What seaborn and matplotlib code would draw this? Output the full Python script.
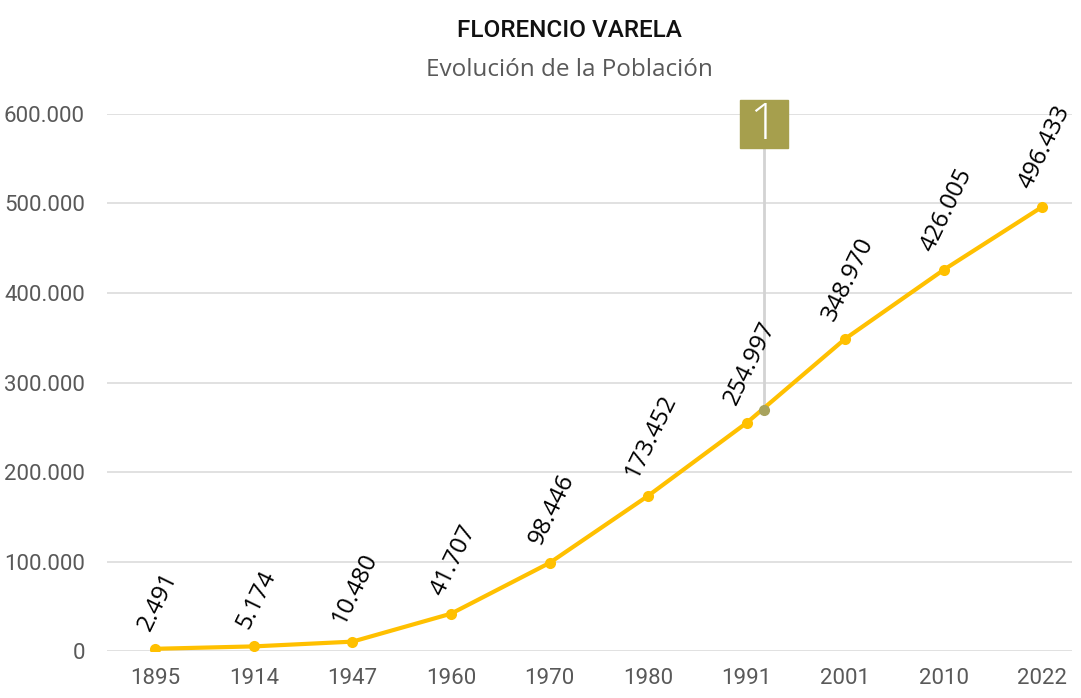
import matplotlib.pyplot as plt
import numpy as np
import seaborn as sns

years = ["1895", "1914", "1947", "1960", "1970", "1980", "1991", "2001", "2010", "2022"]
population = [2491, 5174, 10480, 41707, 98446, 173452, 254997, 348970, 426005, 496433]

# callout "1" sitting between 1991 and 2001
callout_label = "1"
callout_x = 6.17
callout_y = 269000
callout_box_y = 589000

LINE_COLOR = "#FFC000"
GRID_COLOR = "#D9D9D9"
TEXT_GRAY = "#595959"
OLIVE = "#A69F4D"


def fmt(v):
    return f"{v:,.0f}".replace(",", ".")


sns.set_theme(style="white")
plt.rcParams["font.family"] = ["Roboto", "DejaVu Sans"]

fig = plt.figure(figsize=(10.81, 6.98), dpi=100)
ax = fig.add_axes([0.099, 0.0673, 0.8927, 0.7694])

x = np.arange(len(years))
sns.lineplot(x=x, y=population, color=LINE_COLOR, linewidth=3, marker="o",
             markersize=8, markeredgewidth=0, ax=ax, zorder=3)

for xi, val in zip(x, population):
    ax.annotate(fmt(val), (xi, val), xytext=(2, 10), textcoords="offset points",
                rotation=64, ha="center", va="bottom", fontsize=17.5,
                family=["Open Sans", "DejaVu Sans"], color="black")

# callout marker
ax.plot([callout_x, callout_x], [callout_y, callout_box_y], color="#D3D3D3",
        linewidth=2, zorder=2, clip_on=False)
ax.plot(callout_x, callout_y, "o", color="#A8A35E", markersize=7, zorder=4)
ax.plot(callout_x, callout_box_y, "s", color=OLIVE, markersize=34, zorder=5, clip_on=False)
ax.text(callout_x, callout_box_y - 2000, callout_label, color="white", fontsize=36,
        family=["Open Sans", "DejaVu Sans"], fontweight="light",
        ha="center", va="center", zorder=6)

ax.set_xlim(-0.49, 9.3)
ax.set_ylim(0, 600000)
ax.set_yticks(np.arange(0, 600001, 100000))
ax.set_yticklabels([fmt(v) for v in ax.get_yticks()])
ax.set_xticks(x)
ax.set_xticklabels(years)
ax.tick_params(axis="y", length=0, pad=16, labelsize=16, labelcolor=TEXT_GRAY)
ax.tick_params(axis="x", length=0, pad=12, labelsize=16, labelcolor=TEXT_GRAY)
ax.yaxis.grid(True, color=GRID_COLOR, linewidth=1.1)
ax.set_axisbelow(True)
for s in ax.spines.values():
    s.set_visible(False)

fig.text(0.527, 0.956, "FLORENCIO VARELA", ha="center", va="center",
         fontsize=17.5, fontweight="medium", color="#111111")
fig.text(0.527, 0.899, "Evolución de la Población", ha="center", va="center",
         fontsize=17.5, color=TEXT_GRAY, family=["Open Sans", "DejaVu Sans"])

fig.savefig("out.png", dpi=100, facecolor="white")
